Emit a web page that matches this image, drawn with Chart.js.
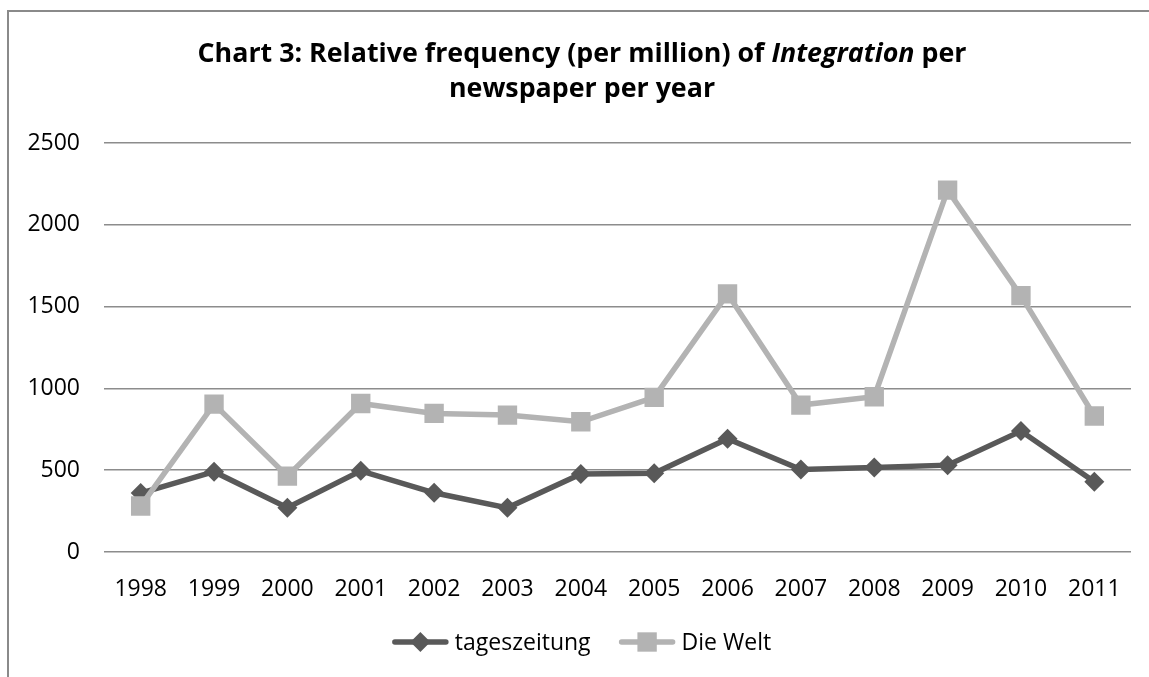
<!DOCTYPE html>
<html><head><meta charset="utf-8">
<script src="https://cdn.jsdelivr.net/npm/chart.js@4/dist/chart.umd.min.js"></script>
<style>html,body{margin:0;padding:0;background:#fff}#wrap{position:relative;width:1149px;height:677px}</style>
</head><body><div id="wrap"><canvas id="c" width="1149" height="677"></canvas></div>
<script>
const years = ['1998','1999','2000','2001','2002','2003','2004','2005','2006','2007','2008','2009','2010','2011'];
const tageszeitung = [360, 491, 271, 496, 362, 270, 477, 481, 692, 504, 516, 531, 739, 430];
const dieWelt = [281, 904, 464, 908, 847, 837, 796, 945, 1578, 898, 949, 2212, 1567, 831];
const seriesNames = ['tageszeitung', 'Die Welt'];
const yMin = 0, yMax = 2500, yStep = 500;
const titleLine1 = [
  {text: 'Chart 3: Relative frequency (per million) of ', italic: false},
  {text: 'Integration', italic: true},
  {text: ' per', italic: false}
];
const titleLine2 = 'newspaper per year';

const FONT = "'Open Sans', 'DejaVu Sans', sans-serif";
const DARK = '#595959', LIGHT = '#b3b3b3';
const CENTER_X = 582;

const decor = {
  id: 'decor',
  afterDraw(chart) {
    const ctx = chart.ctx;
    ctx.save();
    // frame
    ctx.strokeStyle = '#8a8a8a';
    ctx.lineWidth = 2;
    ctx.beginPath();
    ctx.moveTo(8, chart.height + 5);
    ctx.lineTo(8, 11);
    ctx.lineTo(chart.width + 5, 11);
    ctx.stroke();
    // title
    ctx.fillStyle = '#000';
    ctx.textBaseline = 'alphabetic';
    const fs = 26.8;
    const fontN = `bold ${fs}px ${FONT}`, fontI = `italic bold ${fs}px ${FONT}`;
    let w = 0;
    titleLine1.forEach(p => { ctx.font = p.italic ? fontI : fontN; w += ctx.measureText(p.text).width; });
    let x = CENTER_X - w / 2;
    titleLine1.forEach(p => {
      ctx.font = p.italic ? fontI : fontN;
      ctx.textAlign = 'left';
      ctx.fillText(p.text, x, 62);
      x += ctx.measureText(p.text).width;
    });
    ctx.font = fontN;
    ctx.textAlign = 'center';
    ctx.fillText(titleLine2, CENTER_X, 97);
    // legend
    ctx.font = `23px ${FONT}`;
    const lineLen = 55, gap = 7, itemGap = 29;
    const items = chart.data.datasets.map(ds => ({ds, tw: ctx.measureText(ds.label).width}));
    let total = 0;
    items.forEach((it, i) => { total += lineLen + gap + it.tw + (i ? itemGap : 0); });
    let lx = CENTER_X - total / 2;
    const ly = 642;
    items.forEach(it => {
      const ds = it.ds;
      ctx.strokeStyle = ds.borderColor;
      ctx.lineWidth = ds.borderWidth;
      ctx.lineCap = 'round';
      ctx.beginPath();
      ctx.moveTo(lx + 2, ly); ctx.lineTo(lx + lineLen - 2, ly); ctx.stroke();
      const cx = lx + lineLen / 2;
      ctx.fillStyle = ds.pointBackgroundColor;
      ctx.beginPath();
      if (ds.pointStyle === 'rectRot') {
        const r = ds.pointRadius;
        ctx.moveTo(cx, ly - r); ctx.lineTo(cx + r, ly); ctx.lineTo(cx, ly + r); ctx.lineTo(cx - r, ly); ctx.closePath();
      } else {
        const s = ds.pointRadius * Math.SQRT1_2;
        ctx.rect(cx - s, ly - s, 2 * s, 2 * s);
      }
      ctx.fill();
      ctx.fillStyle = '#000';
      ctx.textAlign = 'left';
      ctx.textBaseline = 'middle';
      ctx.fillText(ds.label, lx + lineLen + gap, ly + 1);
      lx += lineLen + gap + it.tw + itemGap;
    });
    ctx.restore();
  }
};

new Chart(document.getElementById('c'), {
  type: 'line',
  data: {
    labels: years,
    datasets: [
      {label: seriesNames[0], data: tageszeitung, borderColor: DARK, backgroundColor: DARK,
       pointBackgroundColor: DARK, pointBorderColor: DARK, pointBorderWidth: 0,
       borderWidth: 5.5, pointStyle: 'rectRot', pointRadius: 10, order: 1, tension: 0},
      {label: seriesNames[1], data: dieWelt, borderColor: LIGHT, backgroundColor: LIGHT,
       pointBackgroundColor: LIGHT, pointBorderColor: LIGHT, pointBorderWidth: 0,
       borderWidth: 5.5, pointStyle: 'rect', pointRadius: 13.7, order: 0, tension: 0}
    ]
  },
  options: {
    responsive: false, animation: false, devicePixelRatio: 1,
    layout: {padding: {top: 143, right: 18, bottom: 75, left: 0}},
    plugins: {legend: {display: false}, title: {display: false}, tooltip: {enabled: false}},
    scales: {
      x: {
        offset: true,
        grid: {display: false, drawTicks: false},
        border: {display: false},
        ticks: {color: '#000', font: {family: FONT, size: 23}, padding: 24, maxRotation: 0, autoSkip: false},
        afterFit(s) { s.height = 50; }
      },
      y: {
        min: yMin, max: yMax,
        grid: {color: '#8c8c8c', lineWidth: 1.5, drawTicks: false},
        border: {display: false},
        ticks: {stepSize: yStep, color: '#000', font: {family: FONT, size: 23}, padding: 24,
                callback: v => String(v)},
        afterFit(s) { s.width = 104; }
      }
    }
  },
  plugins: [decor]
});
</script></body></html>
